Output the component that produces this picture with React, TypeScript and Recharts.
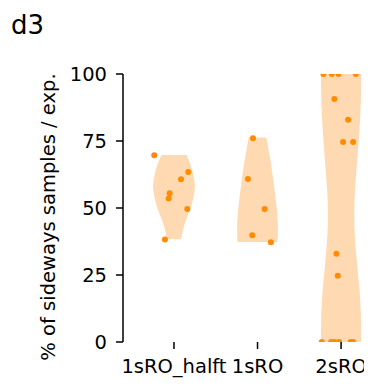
import React from 'react';
import { ComposedChart, Area, Scatter, XAxis, YAxis } from 'recharts';

const categories = ['1sRO_halft', '1sRO', '2sRO'];
const yTicks = [0, 25, 50, 75, 100];

// sample values (% sideways) per category, with horizontal jitter (in category units)
const halftValues = [69.7, 63.4, 60.7, 55.5, 53.5, 49.6, 38.2];
const halftJitter = [-0.236, 0.171, 0.084, -0.052, -0.064, 0.16, -0.108];
const oneValues = [76, 60.8, 49.6, 39.8, 37.2];
const oneJitter = [-0.055, -0.115, 0.085, -0.063, 0.16];
const twoValues = [100, 100, 100, 100, 90.7, 82.9, 74.6, 74.6, 32.9, 24.7, 0, 0, 0, 0, 0, 0];
const twoJitter = [-0.212, -0.111, -0.032, 0.176, -0.08, 0.084, 0.024, 0.144, -0.056, -0.04, -0.231, -0.12, -0.078, -0.024, 0.114, 0.144];

// violin outlines: level (%) and half-width (category units)
const halftViolinLevels = [69.8, 66, 62, 58, 54, 50, 46, 42, 38.3];
const halftViolinWidths = [0.15, 0.2, 0.233, 0.25, 0.233, 0.2, 0.15, 0.108, 0.084];
const oneViolinLevels = [76.3, 72, 66.7, 60, 56.7, 50, 44, 40, 37.3];
const oneViolinWidths = [0.105, 0.13, 0.16, 0.19, 0.204, 0.23, 0.243, 0.243, 0.238];
const twoViolinLevels = [100, 90.9, 78.5, 66, 53.6, 47.4, 41.2, 28.7, 16.3, 3.8, 0];
const twoViolinWidths = [0.24, 0.237, 0.219, 0.189, 0.162, 0.158, 0.162, 0.192, 0.228, 0.24, 0.24];

const violin = (center: number, levels: number[], widths: number[]) =>
  levels.map((y, i) => ({ y, w: [center - widths[i], center + widths[i]] }));

const points = (center: number, values: number[], jitter: number[]) =>
  values.map((y, i) => ({ px: center + jitter[i], y }));

const violins = [
  violin(0, halftViolinLevels, halftViolinWidths),
  violin(1, oneViolinLevels, oneViolinWidths),
  violin(2, twoViolinLevels, twoViolinWidths),
];
const dots = [
  ...points(0, halftValues, halftJitter),
  ...points(1, oneValues, oneJitter),
  ...points(2, twoValues, twoJitter),
];

const FONT = 'DejaVu Sans';
const FS = 19.5;

const Dot = (props: any) => {
  const { cx, cy } = props;
  return <circle cx={cx} cy={cy} r={3} fill="#ff8c00" />;
};

const YLabel = (props: any) => {
  const vb = props.viewBox || { x: 0, y: 66, width: 115, height: 268 };
  const x = vb.x + 47;
  const y = vb.y + vb.height / 2 + 9;
  return (
    <text
      x={x}
      y={y}
      transform={`rotate(-90, ${x}, ${y})`}
      textAnchor="middle"
      fontFamily={FONT}
      fontSize={FS}
      fill="#000"
    >
      % of sideways samples / exp.
    </text>
  );
};

export default function App() {
  return (
    <div style={{ position: 'relative', width: 364, height: 382 }}>
      <div
        style={{
          position: 'absolute',
          left: 3,
          top: 4,
          fontFamily: FONT,
          fontSize: 26,
          lineHeight: '26px',
          color: '#000',
        }}
      >
        d3
      </div>
      <ComposedChart
        width={364}
        height={382}
        layout="vertical"
        margin={{ top: 66, right: 0, bottom: 0, left: 0 }}
      >
        <XAxis
          type="number"
          dataKey="px"
          domain={[-0.61, 2.37]}
          allowDataOverflow
          ticks={[0, 1, 2]}
          tickFormatter={(v: number) => categories[v] ?? ''}
          axisLine={false}
          tickLine={{ stroke: '#000', strokeWidth: 1.5 }}
          tickSize={7}
          tickMargin={10}
          height={48}
          interval={0}
          tick={{ fill: '#000', fontFamily: FONT, fontSize: FS }}
        />
        <YAxis
          type="number"
          dataKey="y"
          domain={[0, 100]}
          reversed
          allowDataOverflow
          ticks={yTicks}
          width={115}
          axisLine={{ stroke: '#000', strokeWidth: 1.5 }}
          tickLine={{ stroke: '#000', strokeWidth: 1.5 }}
          tickSize={7}
          tickMargin={9}
          interval={0}
          tick={{ fill: '#000', fontFamily: FONT, fontSize: FS }}
          label={{ content: (p: any) => <YLabel {...p} /> }}
        />
        {violins.map((d, i) => (
          <Area
            key={i}
            data={d}
            dataKey="w"
            type="monotone"
            stroke="none"
            fill="#ffd9b2"
            fillOpacity={1}
            isAnimationActive={false}
            dot={false}
            activeDot={false}
          />
        ))}
        <Scatter data={dots} shape={<Dot />} isAnimationActive={false} />
      </ComposedChart>
    </div>
  );
}
